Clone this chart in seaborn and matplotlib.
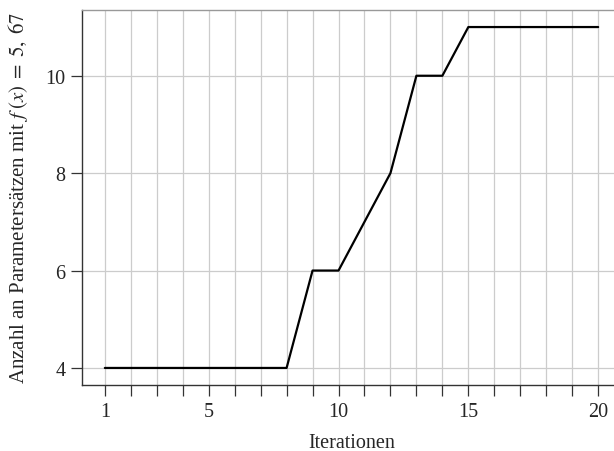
import matplotlib
matplotlib.use("Agg")
import matplotlib.pyplot as plt
import seaborn as sns
import pandas as pd

iterations = list(range(1, 21))
counts = [4, 4, 4, 4, 4, 4, 4, 4, 6, 6, 7, 8, 10, 10, 11, 11, 11, 11, 11, 11]
x_ticklabels = {1: "1", 5: "5", 10: "10", 15: "15", 20: "20"}
y_ticks = [4, 6, 8, 10]

sns.set_theme(style="white")
plt.rcParams["font.family"] = ["Liberation Serif", "DejaVu Serif"]
plt.rcParams["mathtext.fontset"] = "stix"

df = pd.DataFrame({"Iterationen": iterations, "Anzahl": counts})

fig = plt.figure(figsize=(6.14, 4.52), dpi=100)
ax = fig.add_axes([82/614, 1 - 386/452, (621-82)/614, (386-11)/452])

sns.lineplot(data=df, x="Iterationen", y="Anzahl", ax=ax, color="black", linewidth=1.6)

ax.set_xlim(0.12, 20.88)
ax.set_ylim(3.65, 11.35)
ax.set_xticks(iterations)
ax.set_xticklabels([x_ticklabels.get(i, "") for i in iterations])
ax.set_yticks(y_ticks)
ax.set_yticklabels([str(v) for v in y_ticks])
ax.grid(True, color="#cccccc", linewidth=0.9)
ax.set_axisbelow(True)

for s in ["left", "bottom"]:
    ax.spines[s].set_color("#333333")
    ax.spines[s].set_linewidth(1.0)
ax.spines["top"].set_color("#999999")
ax.spines["top"].set_linewidth(1.0)
ax.spines["right"].set_visible(False)

ax.tick_params(axis="both", direction="out", length=8, width=0.9, color="#333333",
               labelsize=14.5, pad=4, bottom=True, left=True)
ax.set_xlabel("Iterationen", fontsize=14.5, labelpad=9)
ax.set_ylabel(r"Anzahl an Parametersätzen mit $f\;(x)\;=\;5,\;67$", fontsize=15, labelpad=11)

fig.savefig("out.png", dpi=100)
